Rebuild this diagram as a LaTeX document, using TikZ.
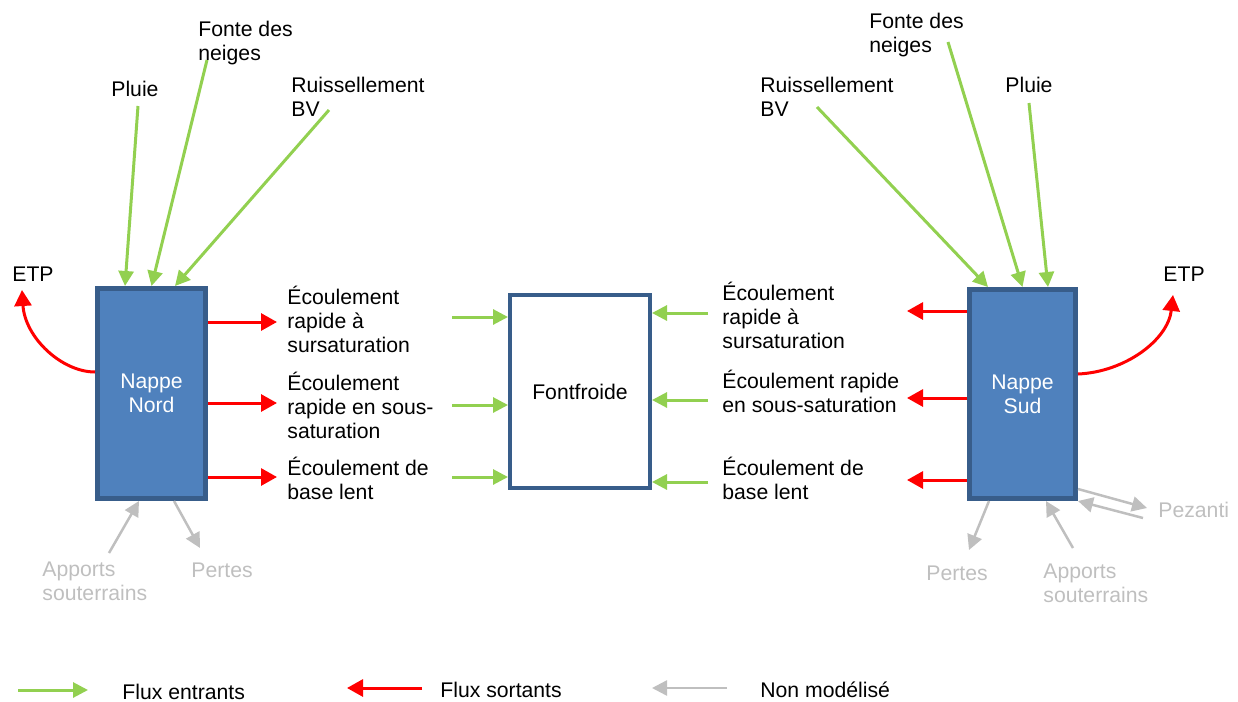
\documentclass[tikz,border=0pt]{standalone}
\usepackage{fontspec}
\setmainfont{Liberation Sans}
\usetikzlibrary{arrows.meta}

\definecolor{fluxin}{HTML}{92D050}
\definecolor{fluxout}{HTML}{FF0000}
\definecolor{grisnm}{HTML}{BFBFBF}
\definecolor{nappefill}{HTML}{4F81BD}
\definecolor{nappeline}{HTML}{385D8A}

\begin{document}
\begin{tikzpicture}[x=0.5pt,y=-0.5pt,font=\fontsize{10.6}{12}\selectfont,
    entrant/.style={draw=fluxin,line width=1.5pt,-{Triangle[length=7.5pt,width=7.5pt]}},
    sortant/.style={draw=fluxout,line width=1.5pt,-{Triangle[length=8pt,width=8.5pt]}},
    nonmod/.style={draw=grisnm,line width=1.25pt,-{Triangle[length=7.5pt,width=7.5pt]}},
    nappe/.style={draw=nappeline,fill=nappefill,line width=2.5pt,text=white,align=center,
        minimum width=54pt,minimum height=105pt,inner sep=0pt},
    lbl/.style={inner sep=0pt,anchor=west,align=left},
    gris/.style={lbl,text=grisnm}]
    \useasboundingbox (0,0) rectangle (1238,702);

    % Boxes:
    \node[nappe] (nord) at (151.5,393.5) {Nappe\\Nord};
    \node[draw=nappeline,line width=2pt,minimum width=70pt,minimum height=96.5pt] (font) at (580,391.5) {Fontfroide};
    \node[nappe,minimum width=53pt,minimum height=104.5pt] (sud) at (1022.5,394) {Nappe\\Sud};

    % Nappe Nord, inputs from above:
    \node[lbl] (pluieN) at (111,88.5) {Pluie};
    \node[lbl] (fonteN) at (198,43) {Fonte des\\neiges};
    \node[lbl] (ruisN) at (291,97) {Ruissellement\\BV};
    \coordinate (pluieNa) at (138,106);
    \coordinate (fonteNa) at (207,60);
    \coordinate (ruisNa) at (329,110);
    \draw[entrant] (pluieNa) -- ([xshift=-13.25pt]nord.north);
    \draw[entrant] (fonteNa) -- (nord.north);
    \draw[entrant] (ruisNa) -- ([xshift=11.75pt]nord.north);

    % ETP:
    \node[lbl] (etpN) at (12,274.5) {ETP};
    \coordinate (etpNb) at (22,290);
    \draw[sortant] ([yshift=10.75pt]nord.west) .. controls (62,372) and (25,338) .. (etpNb);

    % Outflows of Nappe Nord:
    \node[lbl] (ecN1) at (287,319) {Écoulement\\rapide à\\sursaturation};
    \node[lbl] (ecN2) at (287,405) {Écoulement\\rapide en sous-\\saturation};
    \node[lbl] (ecN3) at (287,478.5) {Écoulement de\\base lent};
    \coordinate (rN1) at (277,322);
    \coordinate (rN2) at (277,403);
    \coordinate (rN3) at (277,477);
    \draw[sortant] (nord.east |- rN1) -- (rN1);
    \draw[sortant] (nord.east |- rN2) -- (rN2);
    \draw[sortant] (nord.east |- rN3) -- (rN3);

    % Not modelled:
    \node[gris] (appNl) at (42,581) {Apports\\souterrains};
    \node[gris] (perNl) at (191,570) {Pertes};
    \coordinate (appN) at (109,553);
    \coordinate (perN) at (200,548);
    \draw[nonmod] (appN) -- ([xshift=-6.25pt]nord.south);
    \draw[nonmod] ([xshift=11.25pt]nord.south) -- (perN);

    % Fontfroide inputs:
    \coordinate (eF1) at (452,317);
    \coordinate (eF2) at (452,405);
    \coordinate (eF3) at (452,477);
    \draw[entrant] (eF1) -- (eF1 -| font.west);
    \draw[entrant] (eF2) -- (eF2 -| font.west);
    \draw[entrant] (eF3) -- (eF3 -| font.west);
    \coordinate (eG1) at (708,313);
    \coordinate (eG2) at (708,400);
    \coordinate (eG3) at (708,482);
    \draw[entrant] (eG1) -- (eG1 -| font.east);
    \draw[entrant] (eG2) -- (eG2 -| font.east);
    \draw[entrant] (eG3) -- (eG3 -| font.east);

    % Outflows of Nappe Sud:
    \node[lbl] (ecS1) at (722,315) {Écoulement\\rapide à\\sursaturation};
    \node[lbl] (ecS2) at (722,391) {Écoulement rapide\\en sous-saturation};
    \node[lbl] (ecS3) at (722,478.5) {Écoulement de\\base lent};
    \coordinate (rS1) at (907,311);
    \coordinate (rS2) at (907,398);
    \coordinate (rS3) at (907,480);
    \draw[sortant] (rS1 -| sud.west) -- (rS1);
    \draw[sortant] (rS2 -| sud.west) -- (rS2);
    \draw[sortant] (rS3 -| sud.west) -- (rS3);

    % Nappe Sud, inputs from above:
    \node[lbl] (ruisS) at (760,97) {Ruissellement\\BV};
    \node[lbl] (fonteS) at (869,35) {Fonte des\\neiges};
    \node[lbl] (pluieS) at (1005,85) {Pluie};
    \coordinate (ruisSa) at (817,107);
    \coordinate (fonteSa) at (948,42);
    \coordinate (pluieSa) at (1029,103);
    \draw[entrant] (ruisSa) -- ([xshift=-17.25pt]sud.north);
    \draw[entrant] (fonteSa) -- (sud.north);
    \draw[entrant] (pluieSa) -- ([xshift=12.75pt]sud.north);

    \node[lbl] (etpS) at (1163,274.5) {ETP};
    \coordinate (etpSb) at (1173,295);
    \draw[sortant] ([yshift=10pt]sud.east) .. controls (1125,372) and (1168,340) .. (etpSb);

    \node[gris] (perSl) at (926,573) {Pertes};
    \node[gris] (appSl) at (1043,583.5) {Apports\\souterrains};
    \node[gris] (pezS) at (1158,510) {Pezanti};
    \coordinate (perS) at (969,550);
    \coordinate (appS) at (1073,548);
    \coordinate (pzA) at (1147,508);
    \coordinate (pzB) at (1143,518);
    \draw[nonmod] ([xshift=-16.75pt]sud.south) -- (perS);
    \draw[nonmod] (appS) -- ([xshift=11.75pt]sud.south);
    \draw[nonmod] ([yshift=-47.5pt]sud.east) -- (pzA);
    \draw[nonmod] (pzB) -- (sud.south east);

    % Legend:
    \coordinate (lgA1) at (18,690);
    \coordinate (lgA2) at (88,690);
    \coordinate (lgB1) at (422,688);
    \coordinate (lgB2) at (347,688);
    \coordinate (lgC1) at (727,688);
    \coordinate (lgC2) at (652,688);
    \draw[entrant] (lgA1) -- (lgA2);
    \draw[sortant] (lgB1) -- (lgB2);
    \draw[nonmod] (lgC1) -- (lgC2);
    \node[lbl] (lgA) at (122,692) {Flux entrants};
    \node[lbl] (lgB) at (440,690) {Flux sortants};
    \node[lbl] (lgC) at (760,690) {Non modélisé};
\end{tikzpicture}
\end{document}
